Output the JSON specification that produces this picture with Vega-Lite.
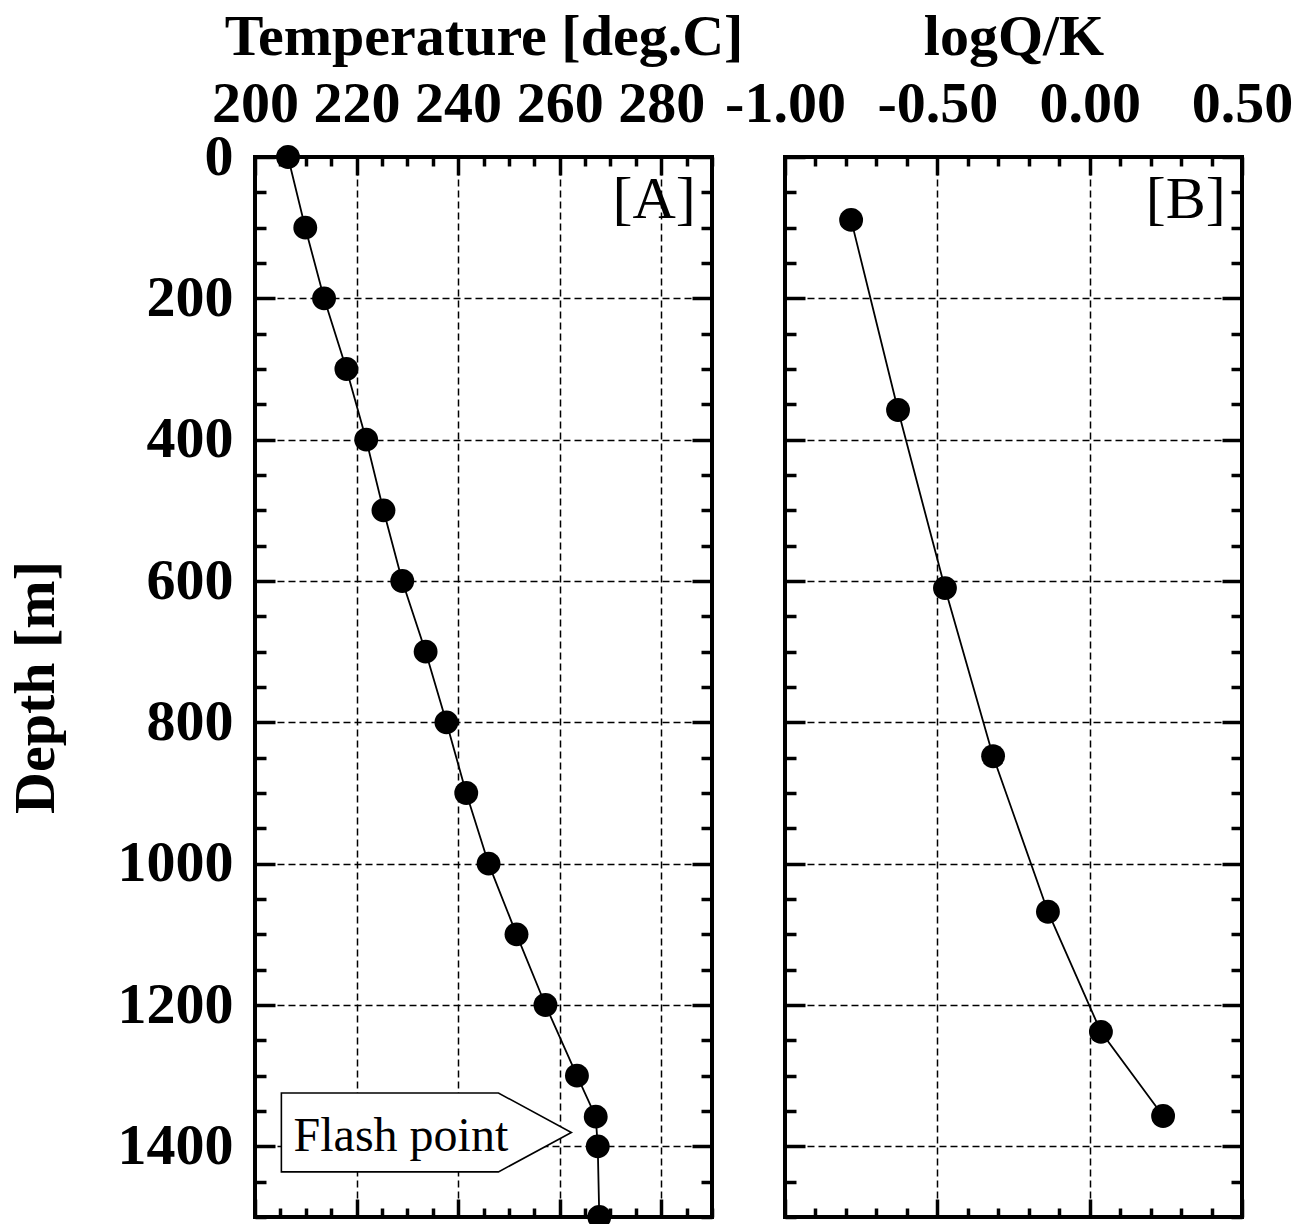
{
  "$schema": "https://vega.github.io/schema/vega-lite/v6.json",
  "background": "white",
  "padding": {"left": 5, "top": 6, "right": 5, "bottom": 5},
  "bounds": "flush",
  "spacing": 73,
  "config": {
    "view": {"stroke": "black", "strokeWidth": 4},
    "font": "Liberation Serif",
    "axis": {
      "domain": false,
      "tickColor": "black",
      "tickWidth": 3.5,
      "gridColor": "black",
      "gridDash": [7, 4],
      "gridWidth": 1.5,
      "labelFont": "Liberation Serif",
      "labelFontSize": 58,
      "labelFontWeight": "bold",
      "labelColor": "black",
      "titleFont": "Liberation Serif",
      "titleFontSize": 58,
      "titleFontWeight": "bold",
      "titleColor": "black",
      "labelOverlap": false,
      "labelFlush": false
    }
  },
  "datasets": {
    "temp": [
      {"temperature": 206.5, "depth": 0},
      {"temperature": 209.9, "depth": 100},
      {"temperature": 213.6, "depth": 200},
      {"temperature": 218.0, "depth": 300},
      {"temperature": 221.9, "depth": 400},
      {"temperature": 225.3, "depth": 500},
      {"temperature": 229.0, "depth": 600},
      {"temperature": 233.6, "depth": 700},
      {"temperature": 237.7, "depth": 800},
      {"temperature": 241.6, "depth": 900},
      {"temperature": 246.0, "depth": 1000},
      {"temperature": 251.5, "depth": 1100},
      {"temperature": 257.2, "depth": 1200},
      {"temperature": 263.4, "depth": 1300},
      {"temperature": 267.1, "depth": 1358},
      {"temperature": 267.5, "depth": 1400},
      {"temperature": 267.8, "depth": 1500}
    ],
    "logq": [
      {"logQK": -0.783, "depth": 89},
      {"logQK": -0.629, "depth": 358},
      {"logQK": -0.475, "depth": 610},
      {"logQK": -0.317, "depth": 848},
      {"logQK": -0.137, "depth": 1068},
      {"logQK": 0.037, "depth": 1238},
      {"logQK": 0.241, "depth": 1357}
    ]
  },
  "hconcat": [
    {
      "width": 457,
      "height": 1060,
      "resolve": {"axis": {"x": "independent", "y": "independent"}},
      "layer": [
        {
          "data": {"name": "temp"},
          "mark": {"type": "line", "color": "black", "strokeWidth": 1.8},
          "encoding": {
            "x": {
              "field": "temperature", "type": "quantitative",
              "scale": {"domain": [200, 290], "nice": false, "zero": false},
              "axis": {
                "orient": "top",
                "values": [200, 205, 210, 215, 220, 225, 230, 235, 240, 245, 250, 255, 260, 265, 270, 275, 280, 285, 290],
                "format": "d",
                "title": "Temperature [deg.C]",
                "titlePadding": 0,
                "labelExpr": "datum.value % 20 === 0 && datum.value < 290 ? datum.label : ''",
                "tickSize": {"condition": {"test": "datum.value % 20 === 0", "value": -18}, "value": -9},
                "labelPadding": 42,
                "grid": true,
                "gridOpacity": {"condition": {"test": "datum.value % 20 === 0", "value": 1}, "value": 0}
              }
            },
            "y": {
              "field": "depth", "type": "quantitative",
              "scale": {"domain": [0, 1500], "reverse": true, "nice": false, "zero": false},
              "axis": {
                "orient": "left",
                "values": [0, 50, 100, 150, 200, 250, 300, 350, 400, 450, 500, 550, 600, 650, 700, 750, 800, 850, 900, 950, 1000, 1050, 1100, 1150, 1200, 1250, 1300, 1350, 1400, 1450, 1500],
                "format": "d",
                "title": "Depth [m]",
                "titlePadding": 52,
                "labelExpr": "datum.value % 200 === 0 ? datum.label : ''",
                "tickSize": {"condition": {"test": "datum.value % 200 === 0", "value": -20}, "value": -11},
                "labelPadding": 42,
                "grid": true,
                "gridOpacity": {"condition": {"test": "datum.value % 200 === 0", "value": 1}, "value": 0}
              }
            },
            "order": {"field": "depth", "type": "quantitative"}
          }
        },
        {
          "data": {"name": "temp"},
          "mark": {"type": "point", "filled": true, "color": "black", "opacity": 1, "size": 570},
          "encoding": {
            "x": {
              "field": "temperature", "type": "quantitative",
              "axis": {
                "orient": "bottom",
                "values": [200, 205, 210, 215, 220, 225, 230, 235, 240, 245, 250, 255, 260, 265, 270, 275, 280, 285, 290],
                "labels": false,
                "title": null,
                "grid": false,
                "tickSize": {"condition": {"test": "datum.value % 20 === 0", "value": -18}, "value": -9}
              }
            },
            "y": {
              "field": "depth", "type": "quantitative",
              "axis": {
                "orient": "right",
                "values": [0, 50, 100, 150, 200, 250, 300, 350, 400, 450, 500, 550, 600, 650, 700, 750, 800, 850, 900, 950, 1000, 1050, 1100, 1150, 1200, 1250, 1300, 1350, 1400, 1450, 1500],
                "labels": false,
                "title": null,
                "grid": false,
                "tickSize": {"condition": {"test": "datum.value % 200 === 0", "value": -20}, "value": -11}
              }
            }
          }
        },
        {
          "data": {"values": [{}]},
          "mark": {
            "type": "point",
            "shape": "M-1,-0.272L0.497,-0.272L1,0L0.497,0.272L-1,0.272Z",
            "size": 84100,
            "filled": true,
            "fill": "white",
            "stroke": "black",
            "strokeWidth": 1.6,
            "opacity": 1
          },
          "encoding": {
            "x": {"datum": 233.75, "type": "quantitative", "axis": null},
            "y": {"datum": 1380.4, "type": "quantitative", "axis": null}
          }
        },
        {
          "data": {"values": [{}]},
          "mark": {"type": "text", "text": "Flash point", "font": "Liberation Serif", "fontSize": 48, "align": "left", "baseline": "alphabetic", "color": "black"},
          "encoding": {
            "x": {"datum": 207.6, "type": "quantitative", "axis": null},
            "y": {"datum": 1406.5, "type": "quantitative", "axis": null}
          }
        },
        {
          "data": {"values": [{}]},
          "mark": {"type": "text", "text": "[A]", "font": "Liberation Serif", "fontSize": 60, "align": "right", "baseline": "alphabetic", "color": "black"},
          "encoding": {
            "x": {"datum": 286.8, "type": "quantitative", "axis": null},
            "y": {"datum": 86.7, "type": "quantitative", "axis": null}
          }
        }
      ]
    },
    {
      "width": 457,
      "height": 1060,
      "resolve": {"axis": {"x": "independent", "y": "independent"}},
      "layer": [
        {
          "data": {"name": "logq"},
          "mark": {"type": "line", "color": "black", "strokeWidth": 1.8},
          "encoding": {
            "x": {
              "field": "logQK", "type": "quantitative",
              "scale": {"domain": [-1, 0.5], "nice": false, "zero": false},
              "axis": {
                "orient": "top",
                "values": [-1, -0.9, -0.8, -0.7, -0.6, -0.5, -0.4, -0.3, -0.2, -0.1, 0, 0.1, 0.2, 0.3, 0.4, 0.5],
                "title": "logQ/K",
                "titlePadding": 0,
                "labelExpr": "abs(datum.value*2 - round(datum.value*2)) < 0.001 ? (datum.value < -0.001 ? '-' + format(abs(datum.value), '.2f') : format(abs(datum.value), '.2f')) : ''",
                "tickSize": {"condition": {"test": "abs(datum.value*2 - round(datum.value*2)) < 0.001", "value": -18}, "value": -9},
                "labelPadding": 42,
                "grid": true,
                "gridOpacity": {"condition": {"test": "abs(datum.value*2 - round(datum.value*2)) < 0.001", "value": 1}, "value": 0}
              }
            },
            "y": {
              "field": "depth", "type": "quantitative",
              "scale": {"domain": [0, 1500], "reverse": true, "nice": false, "zero": false},
              "axis": {
                "orient": "left",
                "values": [0, 50, 100, 150, 200, 250, 300, 350, 400, 450, 500, 550, 600, 650, 700, 750, 800, 850, 900, 950, 1000, 1050, 1100, 1150, 1200, 1250, 1300, 1350, 1400, 1450, 1500],
                "labels": false,
                "title": null,
                "tickSize": {"condition": {"test": "datum.value % 200 === 0", "value": -20}, "value": -11},
                "grid": true,
                "gridOpacity": {"condition": {"test": "datum.value % 200 === 0", "value": 1}, "value": 0}
              }
            },
            "order": {"field": "depth", "type": "quantitative"}
          }
        },
        {
          "data": {"name": "logq"},
          "mark": {"type": "point", "filled": true, "color": "black", "opacity": 1, "size": 570},
          "encoding": {
            "x": {
              "field": "logQK", "type": "quantitative",
              "axis": {
                "orient": "bottom",
                "values": [-1, -0.9, -0.8, -0.7, -0.6, -0.5, -0.4, -0.3, -0.2, -0.1, 0, 0.1, 0.2, 0.3, 0.4, 0.5],
                "labels": false,
                "title": null,
                "grid": false,
                "tickSize": {"condition": {"test": "abs(datum.value*2 - round(datum.value*2)) < 0.001", "value": -18}, "value": -9}
              }
            },
            "y": {
              "field": "depth", "type": "quantitative",
              "axis": {
                "orient": "right",
                "values": [0, 50, 100, 150, 200, 250, 300, 350, 400, 450, 500, 550, 600, 650, 700, 750, 800, 850, 900, 950, 1000, 1050, 1100, 1150, 1200, 1250, 1300, 1350, 1400, 1450, 1500],
                "labels": false,
                "title": null,
                "grid": false,
                "tickSize": {"condition": {"test": "datum.value % 200 === 0", "value": -20}, "value": -11}
              }
            }
          }
        },
        {
          "data": {"values": [{}]},
          "mark": {"type": "text", "text": "[B]", "font": "Liberation Serif", "fontSize": 60, "align": "right", "baseline": "alphabetic", "color": "black"},
          "encoding": {
            "x": {"datum": 0.447, "type": "quantitative", "axis": null},
            "y": {"datum": 86.7, "type": "quantitative", "axis": null}
          }
        }
      ]
    }
  ]
}
